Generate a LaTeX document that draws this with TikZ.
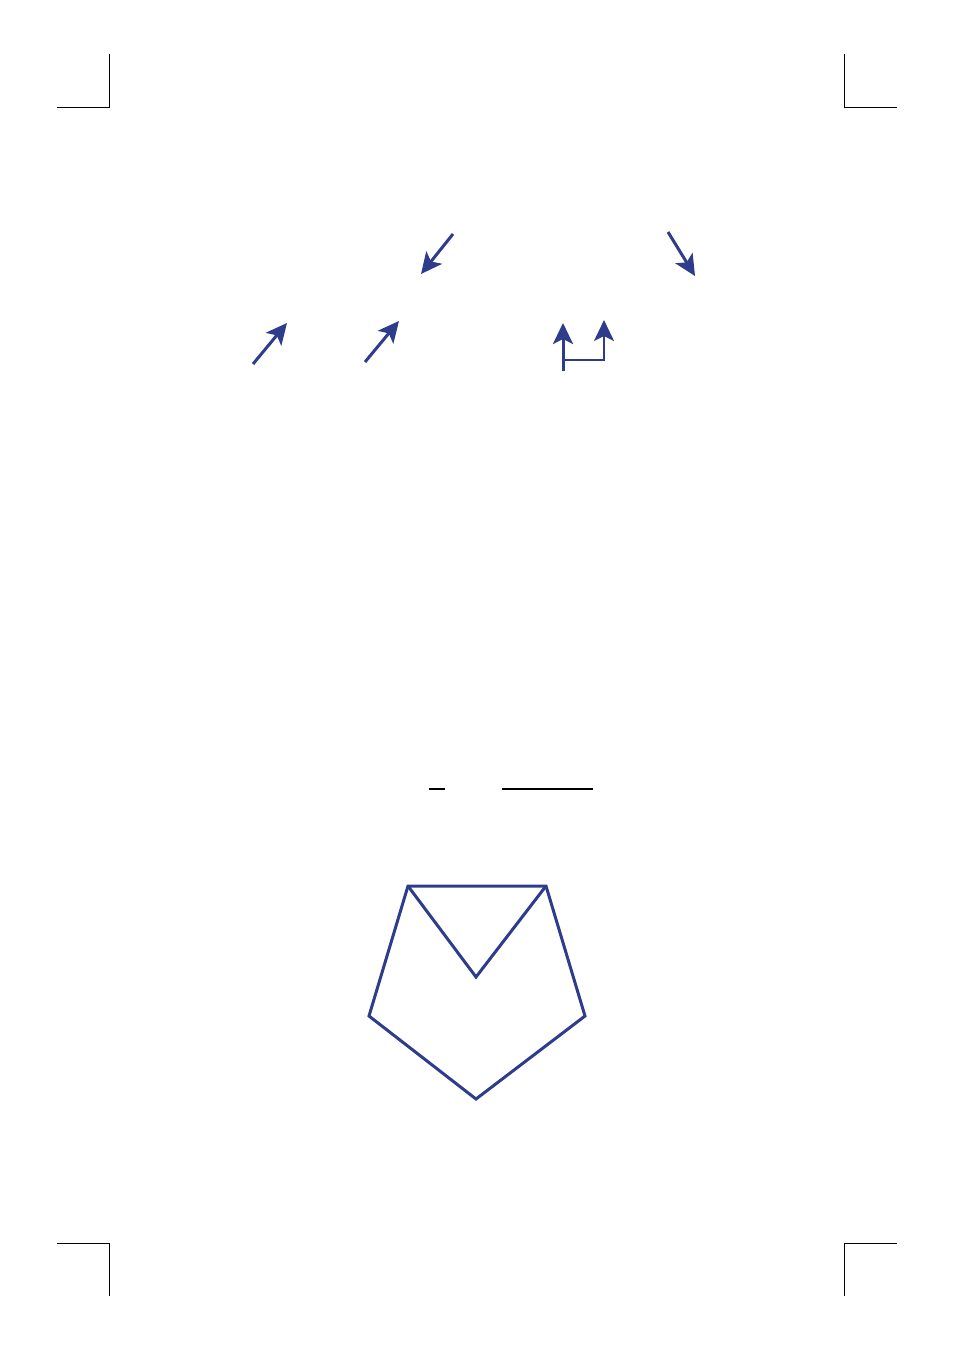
\documentclass[tikz,border=0pt]{standalone}
\usetikzlibrary{arrows.meta}
\definecolor{navy}{RGB}{46,60,140}
\begin{document}
\begin{tikzpicture}[x=1pt,y=-1pt,
  crop/.style={black,line width=0.8pt},
  arr/.style={navy,line width=3pt,-{Stealth[length=21pt,width=20pt,inset=5pt]}},
  thinarr/.style={navy,line width=2pt,-{Stealth[length=21pt,width=20pt,inset=5pt]}},
  poly/.style={navy,line width=3pt,line join=miter},
  rule/.style={black,line width=1.1pt}]
\useasboundingbox (0,0) rectangle (954,1350);
% crop marks
\coordinate (tl1) at (109,54); \coordinate (tl2) at (109,107); \coordinate (tl3) at (57,107);
\coordinate (tr1) at (844,54); \coordinate (tr2) at (844,107); \coordinate (tr3) at (897,107);
\coordinate (bl1) at (57,1243); \coordinate (bl2) at (109,1243); \coordinate (bl3) at (109,1296);
\coordinate (br1) at (897,1243); \coordinate (br2) at (844,1243); \coordinate (br3) at (844,1296);
\draw[crop] (tl1) -- (tl2) -- (tl3);
\draw[crop] (tr1) -- (tr2) -- (tr3);
\draw[crop] (bl1) -- (bl2) -- (bl3);
\draw[crop] (br1) -- (br2) -- (br3);
% arrows
\coordinate (a1s) at (453,234); \coordinate (a1e) at (421,274);
\coordinate (a2s) at (668,232); \coordinate (a2e) at (695,276);
\coordinate (a3s) at (253,364); \coordinate (a3e) at (287,323);
\coordinate (a4s) at (365,362); \coordinate (a4e) at (399,321);
\coordinate (a5s) at (563,371); \coordinate (a5e) at (563,323);
\coordinate (a6s) at (563,360); \coordinate (a6m) at (604,360); \coordinate (a6e) at (604,320);
\draw[arr] (a1s) -- (a1e);
\draw[arr] (a2s) -- (a2e);
\draw[arr] (a3s) -- (a3e);
\draw[arr] (a4s) -- (a4e);
\draw[arr] (a5s) -- (a5e);
\draw[thinarr] (a6s) -- (a6m) -- (a6e);
% rules
\coordinate (r1a) at (429,789); \coordinate (r1b) at (445,789);
\coordinate (r2a) at (502,789); \coordinate (r2b) at (593,789);
\draw[rule] (r1a) -- (r1b);
\draw[rule] (r2a) -- (r2b);
% pentagon
\coordinate (p1) at (408,886); \coordinate (p2) at (546,886);
\coordinate (p3) at (585,1016); \coordinate (p4) at (476,1099);
\coordinate (p5) at (369,1016); \coordinate (pv) at (476,977);
\draw[poly] (p1) -- (p2) -- (p3) -- (p4) -- (p5) -- cycle;
\draw[poly] (p1) -- (pv) -- (p2);
\end{tikzpicture}
\end{document}
